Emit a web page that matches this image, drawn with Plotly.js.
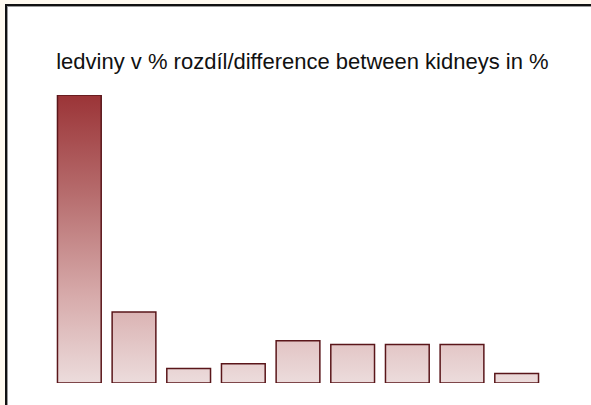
<!DOCTYPE html>
<html>
<head>
<meta charset="utf-8">
<script src="https://cdn.plot.ly/plotly-3.0.1.min.js"></script>
<style>
  html, body { margin: 0; padding: 0; background: #fffaf0; }
  #frame { position: absolute; left: 5px; top: 4px; width: 586px; height: 401px;
           background: #ffffff; border-left: 2px solid #111; border-top: 2px solid #111;
           box-sizing: border-box; box-shadow: inset 1px 1px 0 #9a9a9a; }
  #chart { position: absolute; left: 0; top: 0; width: 591px; height: 405px; }
</style>
</head>
<body>
<div id="frame"></div>
<div id="chart"></div>
<script>
const categories = ['1', '2', '3', '4', '5', '6', '7', '8', '9'];
const values = [30, 7.4, 1.5, 2, 4.4, 4, 4, 4, 1];
const titleText = 'ledviny v % rozdíl/difference between kidneys in %';

const trace = {
  type: 'bar',
  x: categories,
  y: values,
  marker: { color: '#d9b0b0', line: { color: '#5a161a', width: 1.5 } },
  hoverinfo: 'none'
};

const layout = {
  width: 591, height: 405,
  margin: { l: 52, r: 47, t: 95, b: 22 },
  paper_bgcolor: 'rgba(0,0,0,0)',
  plot_bgcolor: 'rgba(0,0,0,0)',
  bargap: 0.2,
  showlegend: false,
  font: { family: 'Liberation Sans, Arial, sans-serif', color: '#111' },
  title: { text: titleText, font: { size: 22, family: 'Liberation Sans, Arial, sans-serif', color: '#111' },
           x: 0.509, xref: 'paper', xanchor: 'center', y: 0.848, yref: 'container', yanchor: 'middle' },
  xaxis: { type: 'category', showgrid: false, showticklabels: false, zeroline: false, showline: false, ticks: '' },
  yaxis: { range: [0, 30], showgrid: false, showticklabels: false, zeroline: false, showline: false, ticks: '' }
};

Plotly.newPlot('chart', [trace], layout, { staticPlot: true, displayModeBar: false }).then(function (gd) {
  const svg = gd.querySelector('svg.main-svg');
  const ns = 'http://www.w3.org/2000/svg';
  let defs = svg.querySelector('defs');
  if (!defs) { defs = document.createElementNS(ns, 'defs'); svg.insertBefore(defs, svg.firstChild); }
  const h = gd._fullLayout._size.h;
  const grad = document.createElementNS(ns, 'linearGradient');
  grad.setAttribute('id', 'barGrad');
  grad.setAttribute('gradientUnits', 'userSpaceOnUse');
  grad.setAttribute('x1', '0'); grad.setAttribute('x2', '0');
  grad.setAttribute('y1', '0'); grad.setAttribute('y2', String(h));
  const stops = [[0, '#9b3437'], [0.33, '#b56a6b'], [0.7, '#d7abab'], [1, '#ecdcdc']];
  stops.forEach(function (s) {
    const st = document.createElementNS(ns, 'stop');
    st.setAttribute('offset', String(s[0]));
    st.setAttribute('stop-color', s[1]);
    grad.appendChild(st);
  });
  defs.appendChild(grad);
  gd.querySelectorAll('.barlayer .point path').forEach(function (p) {
    p.style.fill = 'url(#barGrad)';
  });
});
</script>
</body>
</html>
